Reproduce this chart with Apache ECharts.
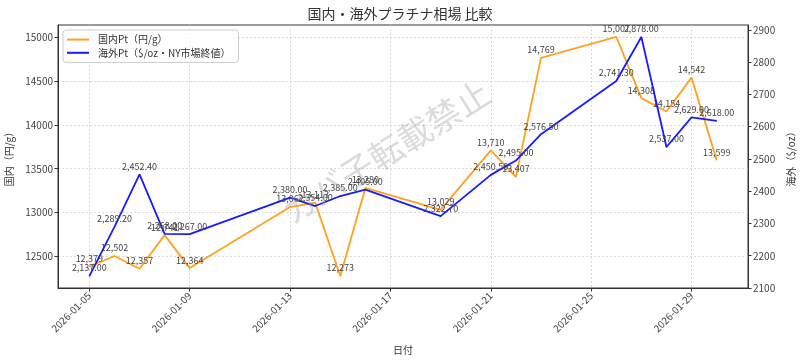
<!DOCTYPE html>
<html>
<head>
<meta charset="utf-8">
<script src="https://cdn.jsdelivr.net/npm/echarts@6/dist/echarts.min.js"></script>
<style>html,body{margin:0;padding:0;background:#fff;}#c{width:800px;height:360px;}</style>
</head>
<body>
<div id="c"></div>
<script>
const dates = ['2026-01-05','2026-01-06','2026-01-07','2026-01-08','2026-01-09','2026-01-13','2026-01-14','2026-01-15','2026-01-16','2026-01-19','2026-01-21','2026-01-22','2026-01-23','2026-01-26','2026-01-27','2026-01-28','2026-01-29','2026-01-30'];
const domestic = [12379, 12502, 12357, 12741, 12364, 13062, 13113, 12273, 13280, 13029, 13710, 13407, 14769, 15007, 14308, 14154, 14542, 13599];
const overseas = [2137.00, 2289.20, 2452.40, 2268.00, 2267.00, 2380.00, 2354.00, 2385.00, 2405.00, 2322.70, 2450.50, 2495.00, 2576.50, 2741.30, 2878.00, 2537.00, 2629.00, 2618.00];
const xTickLabels = ['2026-01-05','2026-01-09','2026-01-13','2026-01-17','2026-01-21','2026-01-25','2026-01-29'];
const leftTicks = [12500, 13000, 13500, 14000, 14500, 15000];
const rightTicks = [2100, 2200, 2300, 2400, 2500, 2600, 2700, 2800, 2900];

const ts = d => Date.parse(d + 'T00:00:00Z');
function pad(n){return (n<10?'0':'')+n;}
function fmtDate(v){const d=new Date(v);return d.getUTCFullYear()+'-'+pad(d.getUTCMonth()+1)+'-'+pad(d.getUTCDate());}
function margins(arr){const mn=Math.min(...arr),mx=Math.max(...arr),r=mx-mn;return [mn-0.05*r,mx+0.05*r];}
const xs = dates.map(ts);
const [xMin,xMax] = margins(xs);
const [lMin,lMax] = margins(domestic);
const [rMin,rMax] = margins(overseas);

const FONT = 'Noto Sans CJK JP';
const axisColor = '#333';
const ORANGE = '#ffa21f', BLUE = '#1a1aff';
const gridLine = {show:true, lineStyle:{color:'#d0d0d0', type:[2,2], width:0.8}};
const chart = echarts.init(document.getElementById('c'), null, {renderer:'canvas'});
chart.setOption({
  animation:false,
  backgroundColor:'#fff',
  textStyle:{fontFamily:FONT},
  title:{text:'国内・海外プラチナ相場 比較', left:'center', top:2,
    textStyle:{fontSize:14, fontWeight:'normal', color:'#333', fontFamily:FONT}},
  grid:{left:58, right:52, top:25, bottom:72, outerBoundsMode:'none', containLabel:false,
    show:true, borderColor:axisColor, borderWidth:1, backgroundColor:'transparent'},
  legend:{orient:'vertical', left:63, top:30, padding:[4,8,4,3], itemGap:2, itemWidth:22, itemHeight:14,
    borderColor:'#ccc', borderWidth:1, borderRadius:3, backgroundColor:'rgba(255,255,255,0.8)',
    itemStyle:{opacity:0},
    textStyle:{fontSize:10, color:'#333', fontFamily:FONT, padding:[0,0,0,4]},
    data:['国内Pt（円/g）','海外Pt（$/oz・NY市場終値）']},
  xAxis:{type:'value', min:xMin, max:xMax,
    name:'日付', nameLocation:'middle', nameGap:57, nameTextStyle:{fontSize:10, color:'#333'},
    axisLine:{show:true, lineStyle:{color:axisColor}},
    axisTick:{show:true, length:3.5, lineStyle:{color:axisColor}, customValues:xTickLabels.map(ts)},
    axisLabel:{rotate:45, fontSize:10, color:'#444', margin:6, customValues:xTickLabels.map(ts), formatter:v=>fmtDate(v)},
    splitLine:gridLine},
  yAxis:[
    {type:'value', min:lMin, max:lMax, position:'left',
     name:'国内（円/g）', nameLocation:'middle', nameGap:44, nameRotate:90, nameTextStyle:{fontSize:10, color:'#333'},
     axisLine:{show:true, lineStyle:{color:axisColor}},
     axisTick:{show:true, length:3.5, lineStyle:{color:axisColor}, customValues:leftTicks},
     axisLabel:{fontSize:10, color:'#444', margin:5, customValues:leftTicks, formatter:v=>String(v)},
     splitLine:gridLine},
    {type:'value', min:rMin, max:rMax, position:'right',
     name:'海外（$/oz）', nameLocation:'middle', nameGap:37, nameRotate:90, nameTextStyle:{fontSize:10, color:'#333'},
     axisLine:{show:true, lineStyle:{color:axisColor}},
     axisTick:{show:true, length:3.5, lineStyle:{color:axisColor}, customValues:rightTicks},
     axisLabel:{fontSize:10, color:'#444', margin:5, customValues:rightTicks, formatter:v=>String(v)},
     splitLine:{show:false}}
  ],
  graphic:[{type:'text', x:386, y:152, rotation:32*Math.PI/180, z:100, silent:true,
    style:{text:'カバ子転載禁止', fontSize:34, fontFamily:FONT, fill:'rgba(160,160,160,0.38)', align:'center', verticalAlign:'middle'}}],
  series:[
    {name:'国内Pt（円/g）', type:'line', yAxisIndex:0, symbol:'circle', symbolSize:1, showSymbol:true, z:2,
     data:xs.map((x,i)=>[x,domestic[i]]),
     lineStyle:{color:ORANGE, width:1.8}, itemStyle:{color:ORANGE},
     label:{show:true, position:'top', distance:3, fontSize:9, color:'#444', fontFamily:FONT,
       formatter:p=>p.value[1].toLocaleString('en-US')}},
    {name:'海外Pt（$/oz・NY市場終値）', type:'line', yAxisIndex:1, symbol:'circle', symbolSize:1, showSymbol:true, z:3,
     data:xs.map((x,i)=>[x,overseas[i]]),
     lineStyle:{color:BLUE, width:1.8}, itemStyle:{color:BLUE},
     label:{show:true, position:'top', distance:3, fontSize:9, color:'#444', fontFamily:FONT,
       formatter:p=>p.value[1].toLocaleString('en-US',{minimumFractionDigits:2, maximumFractionDigits:2})}}
  ]
});
</script>
</body>
</html>
